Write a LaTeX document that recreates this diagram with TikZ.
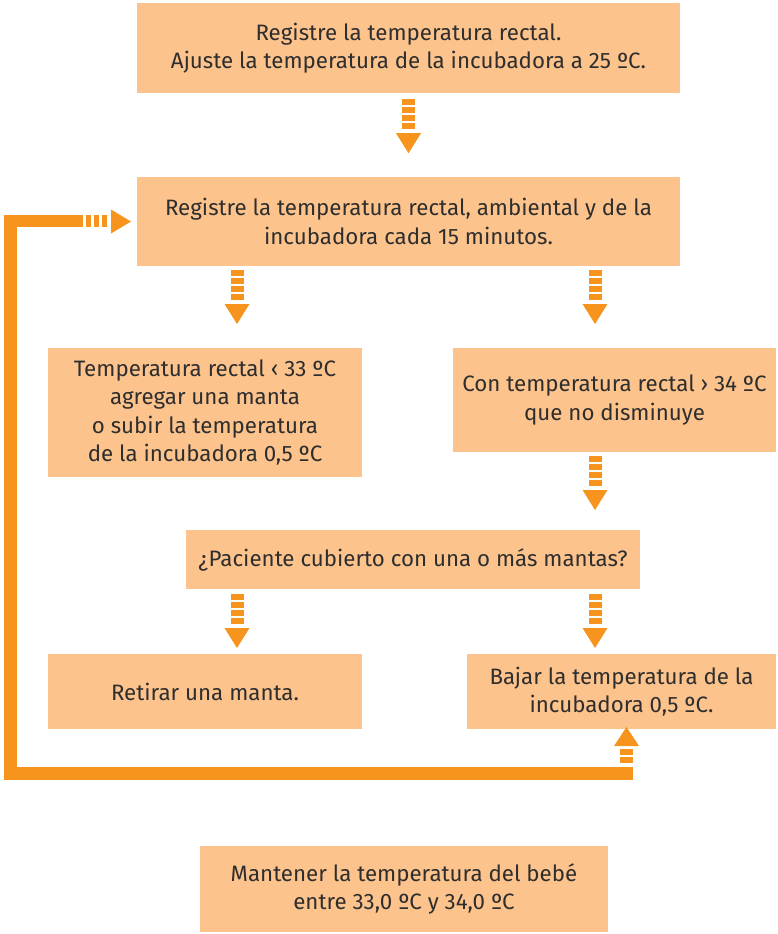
\documentclass[tikz,border=0pt]{standalone}
\usepackage{fontspec}
\setmainfont{Fira Sans}
\usetikzlibrary{calc}
\definecolor{boxc}{HTML}{FDC38C}
\definecolor{arrc}{HTML}{F7941D}
\definecolor{txtc}{HTML}{2E2E2E}
\tikzset{
  box/.style={fill=boxc, draw=none, inner sep=0pt, align=center, text=txtc,
    font=\fontsize{22.3}{28.5}\selectfont},
}
\newcommand{\dnarr}[1]{%
  \foreach \k in {0,1,2,3}{\fill[arrc] ([shift={(-6.5,{-8*\k})}]#1) rectangle ++(13,-6);}
  \fill[arrc] ([shift={(-12.5,-34)}]#1) -- ++(25,0) -- ([yshift=-54pt]#1) -- cycle;
}
\begin{document}
\begin{tikzpicture}[x=1pt,y=1pt]
\useasboundingbox (0,0) rectangle (777,-934);
\node[box, minimum width=543, minimum height=90] (b1) at (408.5,-48)
  {Registre la temperatura rectal.\\Ajuste la temperatura de la incubadora a 25 ºC.};
\node[box, minimum width=543, minimum height=89] (b2) at (408.5,-221.5)
  {Registre la temperatura rectal, ambiental y de la\\incubadora cada 15 minutos.};
\node[box, minimum width=314, minimum height=129] (b3) at (205,-412.5)
  {Temperatura rectal ‹ 33 ºC\\agregar una manta\\o subir la temperatura\\de la incubadora 0,5 ºC};
\node[box, minimum width=323, minimum height=104] (b4) at (614.5,-400)
  {Con temperatura rectal › 34 ºC\\que no disminuye};
\node[box, minimum width=454, minimum height=59] (b5) at (413,-559.5)
  {¿Paciente cubierto con una o más mantas?};
\node[box, minimum width=314, minimum height=75] (b6) at (205,-691.5)
  {Retirar una manta.};
\node[box, minimum width=309, minimum height=75] (b7) at (621.5,-691.5)
  {Bajar la temperatura de la\\incubadora 0,5 ºC.};
\node[box, minimum width=408, minimum height=86] (b8) at (404,-889)
  {Mantener la temperatura del bebé\\entre 33,0 ºC y 34,0 ºC};
% down arrows
\coordinate (a1) at ([yshift=-6pt]b1.south);
\coordinate (a2) at (237,-270);
\coordinate (a3) at (595,-270);
\coordinate (a4) at (595,-456);
\coordinate (a5) at (237,-594);
\coordinate (a6) at (595,-594);
\dnarr{a1}
\dnarr{a2}
\dnarr{a3}
\dnarr{a4}
\dnarr{a5}
\dnarr{a6}
% loop back
\coordinate (lstart) at (633,-767);
\coordinate (ltip) at (131,-221.5);
\coordinate (utip) at (626.5,-727);
\fill[arrc] (4,-780) rectangle (lstart);
\fill[arrc] (4,-215) rectangle (17,-780);
\fill[arrc] (4,-215) rectangle (83,-227);
\foreach \xx in {86,94,102}{\fill[arrc] (\xx,-215) rectangle ++(5,-12);}
\fill[arrc] (111,-209.5) -- (111,-233.5) -- (ltip) -- cycle;
\foreach \yy in {-757,-749}{\fill[arrc] (620,\yy) rectangle ++(13,-6);}
\fill[arrc] (614,-746) -- (639,-746) -- (utip) -- cycle;
\end{tikzpicture}
\end{document}
